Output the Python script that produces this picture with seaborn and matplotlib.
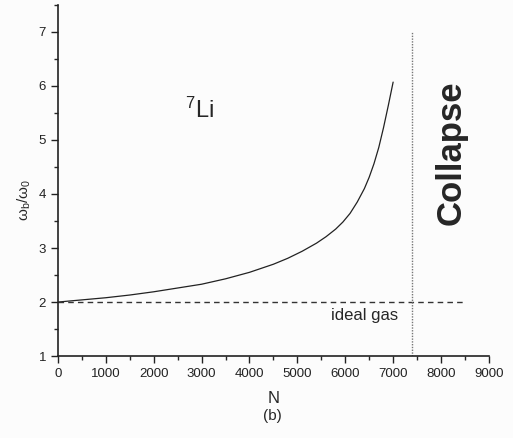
import numpy as np
import pandas as pd
import seaborn as sns
import matplotlib.ticker as mtick

from matplotlib import pyplot as plt

# curve
n_vals = [0, 500, 1000, 1500, 2000, 2500, 3000, 3500, 4000, 4500, 4800, 5100,
          5400, 5600, 5800, 5950, 6100, 6250, 6400, 6500, 6600, 6700, 6800,
          6900, 7000]
w_ratio = [2.0, 2.04, 2.08, 2.13, 2.19, 2.26, 2.33, 2.43, 2.55, 2.70, 2.81, 2.94,
           3.09, 3.21, 3.35, 3.48, 3.64, 3.85, 4.10, 4.31, 4.56, 4.86, 5.23,
           5.64, 6.07]

ideal_gas_x = [0, 8500]
ideal_gas_y = [2, 2]
collapse_n = 7400
collapse_top = 7

df = pd.DataFrame({'N': n_vals, 'ratio': w_ratio})

sns.set_style("ticks")
plt.rcParams['font.family'] = ['Liberation Sans', 'DejaVu Sans']
plt.rcParams['mathtext.fontset'] = 'custom'
plt.rcParams['mathtext.rm'] = 'Liberation Sans'
plt.rcParams['mathtext.it'] = 'Liberation Sans'

fig = plt.figure(figsize=(5.13, 4.38), dpi=100, facecolor='#fcfcfc')
ax = fig.add_axes([0.113, 0.187, 0.84, 0.802])
ax.set_facecolor('#fcfcfc')

sns.lineplot(x='N', y='ratio', data=df, ax=ax, color='#222222', linewidth=0.9)
ax.plot(ideal_gas_x, ideal_gas_y, color='#333333', linewidth=1.0, dashes=(4, 3))
ax.plot([collapse_n, collapse_n], [1, collapse_top], color='#777777',
        linewidth=1.0, linestyle=(0, (1, 1)))

ax.set_xlim(0, 9000)
ax.set_ylim(1, 7.5)
ax.xaxis.set_major_locator(mtick.MultipleLocator(1000))
ax.xaxis.set_minor_locator(mtick.MultipleLocator(500))
ax.yaxis.set_major_locator(mtick.FixedLocator([1, 2, 3, 4, 5, 6, 7]))
ax.yaxis.set_minor_locator(mtick.MultipleLocator(0.5))
ax.tick_params(which='major', direction='out', length=5, width=1, labelsize=9.5,
               colors='#222222')
ax.tick_params(which='minor', direction='out', length=3, width=1)
for s in ['top', 'right']:
    ax.spines[s].set_visible(False)
for s in ['left', 'bottom']:
    ax.spines[s].set_linewidth(1.2)
    ax.spines[s].set_color('#222222')

ax.set_xlabel('N', fontsize=12, labelpad=8)
ax.set_ylabel('ω$_b$/ω$_0$', fontsize=11)
ax.yaxis.set_label_coords(-0.058, 0.445)

ax.text(2950, 5.55, '$^7$Li', fontsize=17, ha='center', va='center')
ax.text(8210, 4.76, 'Collapse', fontsize=25, fontweight='bold', rotation=90,
        ha='center', va='center')
ax.text(6400, 1.75, 'ideal gas', fontsize=12, ha='center', va='center')

fig.text(0.53, 0.05, '(b)', fontsize=11, ha='center', va='center')

plt.savefig('out.png', dpi=100, facecolor='#fcfcfc')
